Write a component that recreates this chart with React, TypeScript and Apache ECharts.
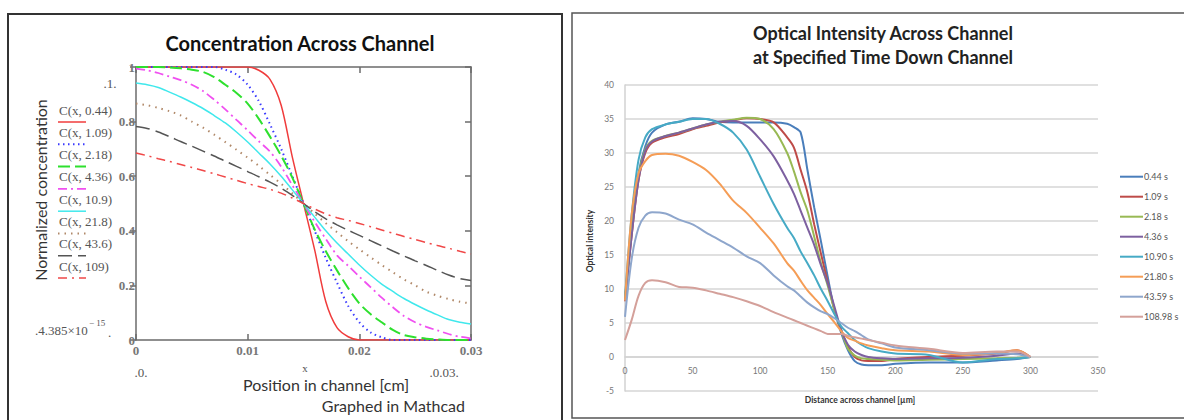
import React, { useEffect, useRef } from "react";
import * as echarts from "echarts";

// ---------- Left panel data (Mathcad) ----------
const positionCm = [
  0, 0.001, 0.002, 0.003, 0.004, 0.005, 0.006, 0.007, 0.008, 0.009, 0.01,
  0.011, 0.012, 0.013, 0.014, 0.015, 0.016, 0.017, 0.018, 0.019, 0.02,
  0.021, 0.022, 0.023, 0.024, 0.025, 0.026, 0.027, 0.028, 0.029, 0.03,
];
const leftNames = [
  "C(x, 0.44)", "C(x, 1.09)", "C(x, 2.18)", "C(x, 4.36)",
  "C(x, 10.9)", "C(x, 21.8)", "C(x, 43.6)", "C(x, 109)",
];
const concT044 = [1,1,1,1,1,1,1,1,1,1,1,0.988,0.955,0.86,0.67,0.5,0.33,0.14,0.045,0.012,0,0,0,0,0,0,0,0,0,0,0];
const concT109 = [1,1,1,1,1,1,1,1,0.99,0.972,0.935,0.875,0.79,0.7,0.6,0.5,0.4,0.3,0.21,0.125,0.065,0.028,0.01,0,0,0,0,0,0,0,0];
const concT218 = [1,1,1,0.998,0.995,0.99,0.982,0.963,0.935,0.905,0.866,0.81,0.745,0.675,0.595,0.5,0.405,0.325,0.255,0.19,0.134,0.095,0.065,0.037,0.018,0.01,0.005,0.002,0,0,0];
const concT436 = [0.994,0.988,0.978,0.965,0.952,0.935,0.912,0.88,0.845,0.806,0.768,0.728,0.69,0.635,0.567,0.5,0.433,0.37,0.31,0.272,0.232,0.194,0.155,0.12,0.088,0.065,0.048,0.035,0.022,0.012,0.006];
const concT1090 = [0.941,0.935,0.925,0.908,0.89,0.87,0.848,0.822,0.795,0.762,0.725,0.685,0.645,0.6,0.55,0.5,0.45,0.4,0.355,0.315,0.275,0.238,0.205,0.178,0.152,0.13,0.11,0.092,0.075,0.065,0.059];
const concT2180 = [0.866,0.86,0.85,0.838,0.823,0.8,0.778,0.752,0.725,0.697,0.668,0.638,0.605,0.572,0.537,0.5,0.463,0.428,0.395,0.362,0.332,0.303,0.275,0.248,0.222,0.2,0.177,0.162,0.15,0.14,0.134];
const concT4360 = [0.782,0.775,0.762,0.745,0.727,0.71,0.692,0.674,0.655,0.636,0.617,0.598,0.578,0.556,0.53,0.5,0.47,0.444,0.422,0.402,0.383,0.364,0.345,0.326,0.308,0.29,0.273,0.255,0.238,0.225,0.218];
const concT10900 = [0.685,0.675,0.664,0.654,0.643,0.632,0.621,0.609,0.597,0.585,0.573,0.562,0.552,0.538,0.52,0.5,0.48,0.462,0.448,0.438,0.427,0.415,0.403,0.391,0.379,0.368,0.357,0.346,0.336,0.325,0.315];
const leftSeriesValues = [concT044, concT109, concT218, concT436, concT1090, concT2180, concT4360, concT10900];
const leftXTickLabels = ["0", "0.01", "0.02", "0.03"];
const leftYTickLabels = ["0", "0.2", "0.4", "0.6", "0.8", "1"];

// ---------- Right panel data (Excel) ----------
const distanceUm = [0,5,10,15,20,30,40,50,60,70,80,90,100,110,120,125,130,135,140,145,150,155,160,165,170,175,180,190,200,225,250,275,290,300];
const rightNames = ["0.44 s", "1.09 s", "2.18 s", "4.36 s", "10.90 s", "21.80 s", "43.59 s", "108.98 s"];
const int044 = [8.5,19,27,31,33,34.2,34.6,35.1,35,34.6,34.5,34.5,34.5,34.5,34.3,33.8,33,27.5,22,17,11.8,6.9,3.5,1.0,-0.6,-1.1,-1.2,-1.2,-1.0,-0.8,-0.8,-0.5,-0.3,0];
const int109 = [8.2,18,26,30,31.5,32.3,32.8,33.5,34,34.5,34.8,35.1,35,34.5,32.3,30.8,27.5,24.2,19.5,15.2,11,6.9,3.9,1.5,0,-0.5,-0.6,-0.6,-0.3,0,0.2,0.5,1.0,0];
const int218 = [8.5,18.5,26.5,30.5,31.8,32.5,33,33.6,34.2,34.6,34.9,35.2,35,33.5,30,27.3,24.2,21.5,17.7,13.8,10.5,6.9,3.9,1.2,0.2,-0.2,-0.3,-0.4,-0.5,-0.4,-0.3,-0.2,-0.1,0];
const int436 = [8.3,18,26,30.3,31.7,32.5,33,33.6,34.2,34.6,34.7,34,32,29.5,26,24,21.5,19,16.5,13.5,10.8,7.4,4,1.8,0.8,0.3,0,-0.2,-0.3,-0.2,-0.1,0.2,0.5,0];
const int1090 = [8.8,21,29,32.3,33.5,34.2,34.6,35,35,34.3,33,30.5,26.5,22.5,19,17.5,15.5,13.8,12,10,8.2,6.3,4.5,3.5,2.5,1.8,1.3,0.8,0.5,0.3,-0.8,-0.3,-0.2,0];
const int2180 = [8.3,21,27,28.8,29.7,29.9,29.6,28.7,27.5,25.5,23,21.2,19,16.7,13.8,12.7,11.2,9.8,8.7,7.6,6.3,5.1,3.8,2.8,2.4,2,1.7,1.3,1.0,0.8,0.3,0.6,1.0,0];
const int4359 = [5.9,14.5,19,20.8,21.3,21.1,20.2,19.5,18.3,17.2,16.1,14.8,13.8,12,10.4,9.8,8.9,8.0,7.3,6.7,6.3,5.7,5.0,4.3,3.8,3.2,2.6,2.0,1.4,1.0,0.5,0.5,0.4,0];
const int10898 = [2.5,5.5,9,10.9,11.3,11,10.3,10.2,9.8,9.3,8.8,8.2,7.5,6.6,5.8,5.4,5.0,4.6,4.2,3.8,3.4,3.4,3.4,3.1,2.9,2.7,2.5,2.1,1.7,1.2,0.6,0.8,0.8,0];
const rightSeriesValues = [int044, int109, int218, int436, int1090, int2180, int4359, int10898];

// ---------- Styles ----------
const leftStyles = [
  { color: "#f03c3c", dash: "solid" as any, width: 1.5 },
  { color: "#3a3aff", dash: [1.5, 3.5], width: 2 },
  { color: "#2ee02e", dash: [12, 5], width: 2 },
  { color: "#f050f0", dash: [9, 4, 2, 4], width: 1.8 },
  { color: "#40e8ec", dash: "solid" as any, width: 1.5 },
  { color: "#b08868", dash: [1.5, 5], width: 2 },
  { color: "#555555", dash: [14, 6], width: 1.5 },
  { color: "#f04848", dash: [9, 5, 2, 5], width: 1.5 },
];
const rightColors = ["#4a7ebb", "#be4b48", "#98b954", "#7d60a0", "#46aac5", "#f59d56", "#8ea6cc", "#d4a09a"];

const serif = "'Liberation Serif', 'DejaVu Serif', serif";
const sans = "Lato, 'Open Sans', sans-serif";

function buildOption() {
  const leftSeries = leftSeriesValues.map((vals, i) => ({
    name: leftNames[i],
    type: "line",
    xAxisIndex: 0,
    yAxisIndex: 0,
    data: positionCm.map((x, j) => [x, vals[j]]),
    showSymbol: false,
    symbol: "none",
    smooth: 0.3,
    clip: true,
    silent: true,
    lineStyle: { color: leftStyles[i].color, width: leftStyles[i].width, type: leftStyles[i].dash },
  }));
  const rightSeries = rightSeriesValues.map((vals, i) => ({
    name: rightNames[i],
    type: "line",
    xAxisIndex: 2,
    yAxisIndex: 2,
    data: distanceUm.map((d, j) => [d, vals[j]]),
    showSymbol: false,
    symbol: "none",
    smooth: 0.3,
    silent: true,
    lineStyle: { color: rightColors[i], width: 2 },
  }));

  const graphics: any[] = [];
  // Panel frames
  graphics.push({ type: "rect", shape: { x: 8, y: 14, width: 554, height: 420 }, style: { fill: "none", stroke: "#333", lineWidth: 2 } });
  graphics.push({ type: "rect", shape: { x: 572, y: 13, width: 640, height: 405 }, style: { fill: "none", stroke: "#555", lineWidth: 1.5 } });
  // Left titles / labels
  graphics.push({ type: "text", x: 300, y: 43, style: { text: "Concentration Across Channel", fontFamily: sans, fontWeight: "bold", fontSize: 20, fill: "#111", align: "center", verticalAlign: "middle" } });
  graphics.push({ type: "text", x: 40, y: 190, rotation: Math.PI / 2, style: { text: "Normalized concentration", fontFamily: sans, fontSize: 16, fill: "#333", align: "center", verticalAlign: "middle" } });
  graphics.push({ type: "text", x: 326, y: 384, style: { text: "Position in channel [cm]", fontFamily: sans, fontSize: 16, fill: "#333", align: "center", verticalAlign: "middle" } });
  graphics.push({ type: "text", x: 465, y: 405, style: { text: "Graphed in Mathcad", fontFamily: sans, fontSize: 16, fill: "#333", align: "right", verticalAlign: "middle" } });
  // Mathcad limit annotations
  const annoStyle = { fontFamily: serif, fontSize: 13, fill: "#555", verticalAlign: "middle" };
  graphics.push({ type: "text", x: 110, y: 83, style: { ...annoStyle, text: ".1.", align: "center" } });
  graphics.push({ type: "text", x: 35, y: 330, style: { ...annoStyle, text: ".4.385×10", align: "left" } });
  graphics.push({ type: "text", x: 89, y: 323, style: { ...annoStyle, fontSize: 9, text: "− 15", align: "left" } });
  graphics.push({ type: "text", x: 108, y: 332, style: { ...annoStyle, text: ".", align: "left" } });
  graphics.push({ type: "text", x: 141, y: 372, style: { ...annoStyle, text: ".0.", align: "center" } });
  graphics.push({ type: "text", x: 305, y: 368, style: { ...annoStyle, fontSize: 11, text: "x", align: "center" } });
  graphics.push({ type: "text", x: 444, y: 372, style: { ...annoStyle, text: ".0.03.", align: "center" } });
  // Left legend
  leftNames.forEach((n, i) => {
    const y = 110 + i * 22.3;
    graphics.push({ type: "text", x: 59, y, style: { text: n, fontFamily: serif, fontSize: 13, fill: "#555", align: "left", verticalAlign: "middle" } });
    const st = leftStyles[i];
    graphics.push({ type: "line", shape: { x1: 58, y1: y + 12, x2: 86, y2: y + 12 }, style: { stroke: st.color, lineWidth: st.width, lineDash: Array.isArray(st.dash) ? st.dash : null } });
  });
  // Right titles / labels
  graphics.push({ type: "text", x: 883, y: 33, style: { text: "Optical Intensity Across Channel", fontFamily: sans, fontWeight: "bold", fontSize: 18, fill: "#222", align: "center", verticalAlign: "middle" } });
  graphics.push({ type: "text", x: 883, y: 57, style: { text: "at Specified Time Down Channel", fontFamily: sans, fontWeight: "bold", fontSize: 18, fill: "#222", align: "center", verticalAlign: "middle" } });
  graphics.push({ type: "text", x: 590, y: 241, rotation: Math.PI / 2, style: { text: "Optical intensity", fontFamily: sans, fontWeight: "bold", fontSize: 8.5, fill: "#333", align: "center", verticalAlign: "middle" } });
  graphics.push({ type: "text", x: 860, y: 400, style: { text: "Distance across channel [µm]", fontFamily: sans, fontWeight: "bold", fontSize: 8.5, fill: "#333", align: "center", verticalAlign: "middle" } });
  // Right legend
  rightNames.forEach((n, i) => {
    const y = 176.7 + i * 20;
    graphics.push({ type: "line", shape: { x1: 1120, y1: y, x2: 1143, y2: y }, style: { stroke: rightColors[i], lineWidth: 2 } });
    graphics.push({ type: "text", x: 1144, y, style: { text: n, fontFamily: sans, fontSize: 9, fill: "#555", align: "left", verticalAlign: "middle" } });
  });

  const boxLine = { show: true, lineStyle: { color: "#6b6b6b", width: 1.5 } };
  const leftLabel = { color: "#777777", fontFamily: serif, fontWeight: "bold", fontSize: 13 };

  return {
    animation: false,
    backgroundColor: "#ffffff",
    textStyle: { fontFamily: sans },
    grid: [
      { left: 136, top: 67, width: 335, height: 273, containLabel: false },
      { left: 625, top: 85, width: 473, height: 306, containLabel: false },
    ],
    xAxis: [
      {
        gridIndex: 0, type: "value", min: 0, max: 0.03, interval: 0.01, position: "bottom",
        axisLine: { ...boxLine, onZero: false },
        axisTick: { show: true, inside: true, length: 6, lineStyle: { color: "#6b6b6b", width: 1.5 } },
        axisLabel: { ...leftLabel, margin: 4, formatter: (_v: number, idx: number) => leftXTickLabels[idx] },
        splitLine: { show: false },
      },
      {
        gridIndex: 0, type: "value", min: 0, max: 0.03, interval: 0.01, position: "top",
        axisLine: { ...boxLine, onZero: false },
        axisTick: { show: true, inside: true, length: 6, lineStyle: { color: "#6b6b6b", width: 1.5 } },
        axisLabel: { show: false },
        splitLine: { show: false },
      },
      {
        gridIndex: 1, type: "value", min: 0, max: 350, interval: 50, position: "bottom",
        offset: -34,
        axisLine: { show: true, onZero: false, lineStyle: { color: "#d2d2d2", width: 1.5 } },
        axisTick: { show: false },
        axisLabel: { color: "#777", fontSize: 8.5, margin: 9 },
        splitLine: { show: false },
      },
    ],
    yAxis: [
      {
        gridIndex: 0, type: "value", min: 0, max: 1, interval: 0.2, position: "left",
        axisLine: { ...boxLine, onZero: false },
        axisTick: { show: true, inside: false, length: 6, lineStyle: { color: "#6b6b6b", width: 1.5 } },
        axisLabel: { ...leftLabel, margin: 1, formatter: (_v: number, idx: number) => leftYTickLabels[idx] },
        splitLine: { show: false },
      },
      {
        gridIndex: 0, type: "value", min: 0, max: 1, interval: 0.2, position: "right",
        axisLine: { ...boxLine, onZero: false },
        axisTick: { show: true, inside: true, length: 6, lineStyle: { color: "#6b6b6b", width: 1.5 } },
        axisLabel: { show: false },
        splitLine: { show: false },
      },
      {
        gridIndex: 1, type: "value", min: -5, max: 40, interval: 5,
        axisLine: { show: true, onZero: false, lineStyle: { color: "#d2d2d2", width: 1.5 } },
        axisTick: { show: false },
        axisLabel: { color: "#777", fontSize: 8.5, margin: 11 },
        splitLine: { show: true, lineStyle: { color: "#d6d6d6", width: 1.5 } },
      },
    ],
    series: [...leftSeries, ...rightSeries],
    graphic: { elements: graphics },
  };
}

export default function App() {
  const ref = useRef<HTMLDivElement>(null);
  useEffect(() => {
    document.body.style.margin = "0";
    const chart = echarts.init(ref.current!, null, { renderer: "svg" });
    chart.setOption(buildOption() as any);
    return () => chart.dispose();
  }, []);
  return <div ref={ref} style={{ width: 1184, height: 420, background: "#fff" }} />;
}
